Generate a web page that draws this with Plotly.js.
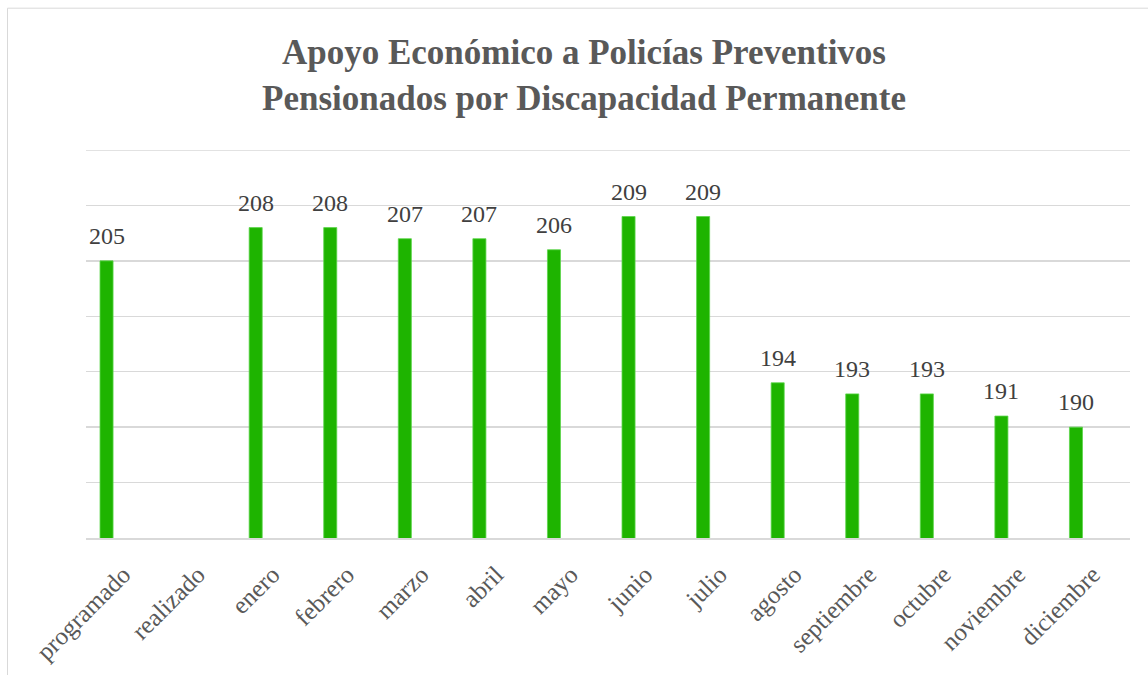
<!DOCTYPE html>
<html>
<head>
<meta charset="utf-8">
<script src="https://cdn.plot.ly/plotly-3.0.1.min.js"></script>
<style>html,body{margin:0;padding:0;background:#fff;}#chart{width:1148px;height:675px;}</style>
</head>
<body>
<div id="chart"></div>
<script>
const categories = ["programado","realizado","enero","febrero","marzo","abril","mayo","junio","julio","agosto","septiembre","octubre","noviembre","diciembre"];
const values = [205, null, 208, 208, 207, 207, 206, 209, 209, 194, 193, 193, 191, 190];
const titleLines = ["Apoyo Económico a Policías Preventivos", "Pensionados por Discapacidad Permanente"];
const yMin = 180, yMax = 215, yStep = 5;

const barOffset = -0.312, barWidth = 0.175;
const serif = "Liberation Serif, Times New Roman, serif";

const annotations = [];
values.forEach((v, i) => {
  if (v === null) return;
  annotations.push({
    x: i + barOffset + barWidth / 2, y: v, xref: 'x', yref: 'y',
    text: String(v), showarrow: false, yanchor: 'bottom', xanchor: 'center', yshift: 10,
    font: {family: serif, size: 24, color: '#404040'}
  });
});

const trace = {
  type: 'bar', x: categories, y: values,
  offset: barOffset, width: barWidth,
  marker: {color: '#1EB400', line: {color: '#5CD64A', width: 0.8}},
  hoverinfo: 'x+y'
};

const layout = {
  width: 1148, height: 675,
  margin: {l: 86, r: 18, t: 150, b: 137},
  paper_bgcolor: '#ffffff', plot_bgcolor: '#ffffff',
  showlegend: false,
  title: {
    text: titleLines.join('<br>'),
    font: {family: serif, size: 35, color: '#595959', weight: 'bold'},
    xref: 'container', x: 0.5087, xanchor: 'center',
    yref: 'container', y: 1 - 64/675, yanchor: 'middle'
  },
  xaxis: {
    type: 'category', range: [-0.5, 13.5],
    tickangle: -45, tickfont: {family: serif, size: 25, color: '#595959'},
    showgrid: false, showline: true, linecolor: '#d9d9d9', linewidth: 2,
    ticks: '', ticklabelstandoff: 10, fixedrange: true
  },
  yaxis: {
    range: [yMin, yMax], dtick: yStep, tick0: yMin,
    showticklabels: false, showgrid: true, gridcolor: '#d9d9d9', gridwidth: 1.5,
    zeroline: false, showline: false, ticks: '', fixedrange: true
  },
  annotations: annotations,
  shapes: [
    {type: 'line', xref: 'paper', yref: 'y', x0: 0, x1: 1, y0: yMax, y1: yMax, line: {color: '#d9d9d9', width: 1.5}, layer: 'below'},
    {type: 'line', xref: 'paper', yref: 'paper', x0: -0.0752, x1: -0.0752, y0: -0.36, y1: 1.3655, line: {color: '#d9d9d9', width: 1}},
    {type: 'line', xref: 'paper', yref: 'paper', x0: -0.0752, x1: 1.02, y0: 1.3655, y1: 1.3655, line: {color: '#d9d9d9', width: 1}}
  ]
};

Plotly.newPlot('chart', [trace], layout, {displayModeBar: false, staticPlot: true});
</script>
</body>
</html>
